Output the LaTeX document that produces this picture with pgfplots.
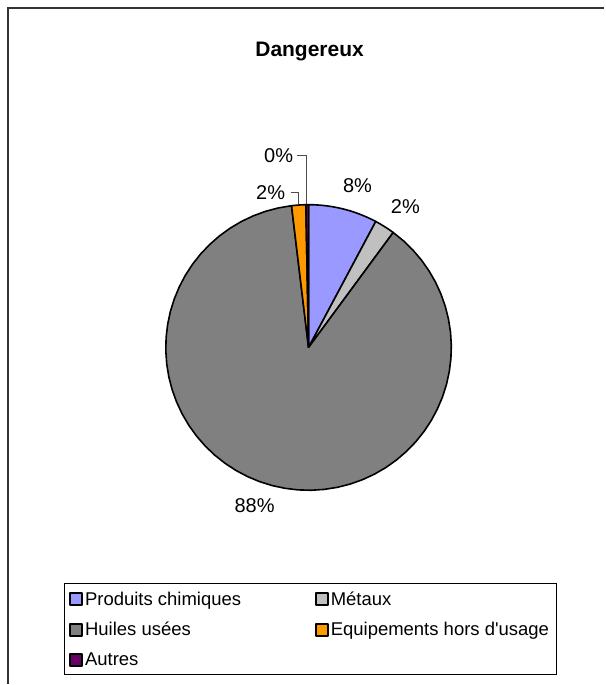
\documentclass[border=0pt]{standalone}
\usepackage{pgfplots}
\usepackage{pgfplotstable}
\pgfplotsset{compat=1.18}
\usepackage{fontspec}
\setmainfont{Liberation Sans}
\definecolor{cProd}{HTML}{9999FF}
\definecolor{cMet}{HTML}{C0C0C0}
\definecolor{cHuil}{HTML}{808080}
\definecolor{cEqu}{HTML}{FF9900}
\definecolor{cAut}{HTML}{660066}
\pgfplotstableread[col sep=comma]{
name,value
Produits chimiques,7.8
Métaux,2.3
Huiles usées,88.0
Equipements hors d'usage,1.6
Autres,0.3
}\piedata
\newcommand\slice[3]{%
  \addplot[draw=black, line width=1.6pt, line join=round, fill=#3,
    samples at={-1,0,1,...,60,61}]
  ({309+143*cos(#1+(#2-#1)*min(max(x,0),60)/60)*(x>-0.5)*(x<60.5)},
   {337+143*sin(#1+(#2-#1)*min(max(x,0),60)/60)*(x>-0.5)*(x<60.5)});
}
\begin{document}
\begin{tikzpicture}
\pgfplotstablegetelem{0}{value}\of\piedata\let\vA\pgfplotsretval
\pgfplotstablegetelem{1}{value}\of\piedata\let\vB\pgfplotsretval
\pgfplotstablegetelem{2}{value}\of\piedata\let\vC\pgfplotsretval
\pgfplotstablegetelem{3}{value}\of\piedata\let\vD\pgfplotsretval
\pgfplotstablegetelem{4}{value}\of\piedata\let\vE\pgfplotsretval
\pgfmathsetmacro\aA{90}
\pgfmathsetmacro\aB{\aA-3.6*\vA}
\pgfmathsetmacro\aC{\aB-3.6*\vB}
\pgfmathsetmacro\aD{\aC-3.6*\vC}
\pgfmathsetmacro\aE{\aD-3.6*\vD}
\pgfmathsetmacro\aF{\aE-3.6*\vE}
\begin{axis}[
  x=1pt, y=1pt, xmin=0, xmax=605, ymin=0, ymax=685,
  hide axis, clip=false,
  legend columns=2,
  legend cell align=left,
  legend image code/.code={\draw[#1, line width=1.8pt] (1pt,-6pt) rectangle (13pt,6pt);},
  legend style={at={(axis cs:64,101)}, anchor=north west, draw=black, line width=0.8pt,
    font=\fontsize{18.5}{22}\selectfont, inner xsep=5pt, inner ysep=6pt,
    row sep=11.5pt,
    /tikz/every even column/.append style={column sep=72pt}},
]
\path (axis cs:0,0) rectangle (axis cs:605,685);
\slice{\aA}{\aB}{cProd}\addlegendentry{Produits chimiques}
\slice{\aB}{\aC}{cMet}\addlegendentry{Métaux}
\slice{\aC}{\aD}{cHuil}\addlegendentry{Huiles usées}
\slice{\aD}{\aE}{cEqu}\addlegendentry{Equipements hors d\textquotesingle usage}
\slice{\aE}{\aF}{cAut}\addlegendentry{Autres}
% leader lines
\addplot[forget plot, black!70, line width=0.8pt] coordinates {(291,492) (299,492) (299,481)};
\addplot[forget plot, black!70, line width=0.8pt] coordinates {(297,529) (307,529) (307,481)};
% data labels
\node[font=\fontsize{20}{24}\selectfont] at (axis cs:358,499) {8\%};
\node[font=\fontsize{20}{24}\selectfont] at (axis cs:406,478) {2\%};
\node[font=\fontsize{20}{24}\selectfont] at (axis cs:255,179) {88\%};
\node[font=\fontsize{20}{24}\selectfont] at (axis cs:271,492) {2\%};
\node[font=\fontsize{20}{24}\selectfont] at (axis cs:279,529) {0\%};
% title
\node[font=\fontsize{21}{25}\selectfont\bfseries] at (axis cs:310,633) {Dangereux};
% outer frame
\draw[line width=2pt, black!80] (axis cs:8.5,0) -- (axis cs:8.5,676.5) -- (axis cs:605,676.5);
\end{axis}
\end{tikzpicture}
\end{document}
